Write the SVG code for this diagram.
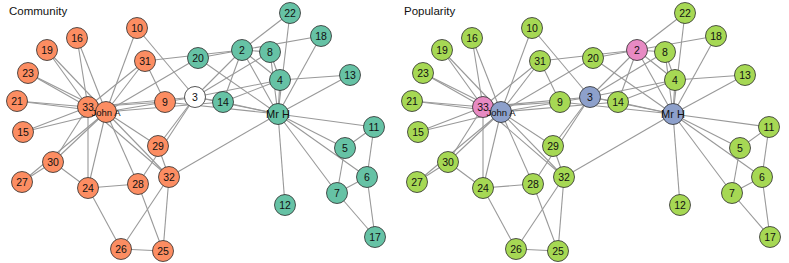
<svg xmlns="http://www.w3.org/2000/svg" width="789" height="263" viewBox="0 0 789 263">
<style>
.e line{stroke:#999999;stroke-width:1.1}
circle{stroke:#2b2b2b;stroke-width:0.8}
.o{fill:#FC8D62}.t{fill:#66C2A5}.w{fill:#ffffff}.b{fill:#8DA0CB}.p{fill:#E78AC3}.g{fill:#A6D854}
text{font-family:"Liberation Sans",Arial,sans-serif;fill:#111}
.n text{font-size:10.5px;text-anchor:middle;dominant-baseline:central}
.n text.s{font-size:9.5px}
.n text.m{font-size:11px}
.ti{font-size:11.5px}
</style>
<rect width="789" height="263" fill="#fff"/>
<text class="ti" x="9" y="15">Community</text>
<text class="ti" x="404" y="15">Popularity</text>
<g id="left">
<g id="connectors-left" class="e">
<line x1="278" y1="114" x2="242" y2="50"/><line x1="278" y1="114" x2="195" y2="97"/><line x1="278" y1="114" x2="280" y2="80"/><line x1="278" y1="114" x2="345" y2="148"/><line x1="278" y1="114" x2="367" y2="177"/><line x1="278" y1="114" x2="337" y2="193"/><line x1="278" y1="114" x2="270" y2="52"/><line x1="278" y1="114" x2="165" y2="102"/><line x1="278" y1="114" x2="374" y2="127"/><line x1="278" y1="114" x2="285" y2="205"/><line x1="278" y1="114" x2="350" y2="75"/><line x1="278" y1="114" x2="223" y2="102"/><line x1="278" y1="114" x2="321" y2="36"/><line x1="278" y1="114" x2="198" y2="58"/><line x1="278" y1="114" x2="290" y2="13"/><line x1="278" y1="114" x2="169" y2="177"/>
<line x1="242" y1="50" x2="195" y2="97"/><line x1="242" y1="50" x2="280" y2="80"/><line x1="242" y1="50" x2="270" y2="52"/><line x1="242" y1="50" x2="223" y2="102"/><line x1="242" y1="50" x2="321" y2="36"/><line x1="242" y1="50" x2="198" y2="58"/><line x1="242" y1="50" x2="290" y2="13"/><line x1="242" y1="50" x2="145" y2="61"/>
<line x1="195" y1="97" x2="280" y2="80"/><line x1="195" y1="97" x2="270" y2="52"/><line x1="195" y1="97" x2="165" y2="102"/><line x1="195" y1="97" x2="137" y2="28"/><line x1="195" y1="97" x2="223" y2="102"/><line x1="195" y1="97" x2="138" y2="184"/><line x1="195" y1="97" x2="158" y2="146"/><line x1="195" y1="97" x2="88" y2="107"/>
<line x1="280" y1="80" x2="270" y2="52"/><line x1="280" y1="80" x2="350" y2="75"/><line x1="280" y1="80" x2="223" y2="102"/>
<line x1="345" y1="148" x2="337" y2="193"/><line x1="345" y1="148" x2="374" y2="127"/><line x1="367" y1="177" x2="337" y2="193"/><line x1="367" y1="177" x2="374" y2="127"/><line x1="367" y1="177" x2="375" y2="237"/><line x1="337" y1="193" x2="375" y2="237"/>
<line x1="165" y1="102" x2="145" y2="61"/><line x1="165" y1="102" x2="88" y2="107"/><line x1="165" y1="102" x2="106" y2="112"/><line x1="137" y1="28" x2="106" y2="112"/><line x1="223" y1="102" x2="106" y2="112"/>
<line x1="23" y1="132" x2="88" y2="107"/><line x1="23" y1="132" x2="106" y2="112"/><line x1="77" y1="38" x2="88" y2="107"/><line x1="77" y1="38" x2="106" y2="112"/><line x1="47" y1="50" x2="88" y2="107"/><line x1="47" y1="50" x2="106" y2="112"/><line x1="198" y1="58" x2="106" y2="112"/><line x1="17" y1="101" x2="88" y2="107"/><line x1="17" y1="101" x2="106" y2="112"/><line x1="28" y1="73" x2="88" y2="107"/><line x1="28" y1="73" x2="106" y2="112"/>
<line x1="88" y1="188" x2="121" y2="249"/><line x1="88" y1="188" x2="138" y2="184"/><line x1="88" y1="188" x2="53" y2="162"/><line x1="88" y1="188" x2="88" y2="107"/><line x1="88" y1="188" x2="106" y2="112"/>
<line x1="163" y1="251" x2="121" y2="249"/><line x1="163" y1="251" x2="138" y2="184"/><line x1="163" y1="251" x2="169" y2="177"/><line x1="121" y1="249" x2="169" y2="177"/>
<line x1="22" y1="182" x2="53" y2="162"/><line x1="22" y1="182" x2="106" y2="112"/><line x1="138" y1="184" x2="106" y2="112"/><line x1="158" y1="146" x2="169" y2="177"/><line x1="158" y1="146" x2="106" y2="112"/>
<line x1="53" y1="162" x2="88" y2="107"/><line x1="53" y1="162" x2="106" y2="112"/><line x1="145" y1="61" x2="88" y2="107"/><line x1="145" y1="61" x2="106" y2="112"/><line x1="169" y1="177" x2="88" y2="107"/><line x1="169" y1="177" x2="106" y2="112"/><line x1="88" y1="107" x2="106" y2="112"/>
</g>
<g class="n">
<g id="c-mrh"><circle class="t" cx="278" cy="114" r="10.5"/><text class="m" x="278" y="114">Mr H</text></g>
<g id="c-2"><circle class="t" cx="242" cy="50" r="10.5"/><text x="242" y="50">2</text></g>
<g id="c-3"><circle class="w" cx="195" cy="97" r="10.5"/><text x="195" y="97">3</text></g>
<g id="c-4"><circle class="t" cx="280" cy="80" r="10.5"/><text x="280" y="80">4</text></g>
<g id="c-5"><circle class="t" cx="345" cy="148" r="10.5"/><text x="345" y="148">5</text></g>
<g id="c-6"><circle class="t" cx="367" cy="177" r="10.5"/><text x="367" y="177">6</text></g>
<g id="c-7"><circle class="t" cx="337" cy="193" r="10.5"/><text x="337" y="193">7</text></g>
<g id="c-8"><circle class="t" cx="270" cy="52" r="10.5"/><text x="270" y="52">8</text></g>
<g id="c-9"><circle class="o" cx="165" cy="102" r="10.5"/><text x="165" y="102">9</text></g>
<g id="c-10"><circle class="o" cx="137" cy="28" r="10.5"/><text x="137" y="28">10</text></g>
<g id="c-11"><circle class="t" cx="374" cy="127" r="10.5"/><text x="374" y="127">11</text></g>
<g id="c-12"><circle class="t" cx="285" cy="205" r="10.5"/><text x="285" y="205">12</text></g>
<g id="c-13"><circle class="t" cx="350" cy="75" r="10.5"/><text x="350" y="75">13</text></g>
<g id="c-14"><circle class="t" cx="223" cy="102" r="10.5"/><text x="223" y="102">14</text></g>
<g id="c-15"><circle class="o" cx="23" cy="132" r="10.5"/><text x="23" y="132">15</text></g>
<g id="c-16"><circle class="o" cx="77" cy="38" r="10.5"/><text x="77" y="38">16</text></g>
<g id="c-17"><circle class="t" cx="375" cy="237" r="10.5"/><text x="375" y="237">17</text></g>
<g id="c-18"><circle class="t" cx="321" cy="36" r="10.5"/><text x="321" y="36">18</text></g>
<g id="c-19"><circle class="o" cx="47" cy="50" r="10.5"/><text x="47" y="50">19</text></g>
<g id="c-20"><circle class="t" cx="198" cy="58" r="10.5"/><text x="198" y="58">20</text></g>
<g id="c-21"><circle class="o" cx="17" cy="101" r="10.5"/><text x="17" y="101">21</text></g>
<g id="c-22"><circle class="t" cx="290" cy="13" r="10.5"/><text x="290" y="13">22</text></g>
<g id="c-23"><circle class="o" cx="28" cy="73" r="10.5"/><text x="28" y="73">23</text></g>
<g id="c-24"><circle class="o" cx="88" cy="188" r="10.5"/><text x="88" y="188">24</text></g>
<g id="c-25"><circle class="o" cx="163" cy="251" r="10.5"/><text x="163" y="251">25</text></g>
<g id="c-26"><circle class="o" cx="121" cy="249" r="10.5"/><text x="121" y="249">26</text></g>
<g id="c-27"><circle class="o" cx="22" cy="182" r="10.5"/><text x="22" y="182">27</text></g>
<g id="c-28"><circle class="o" cx="138" cy="184" r="10.5"/><text x="138" y="184">28</text></g>
<g id="c-29"><circle class="o" cx="158" cy="146" r="10.5"/><text x="158" y="146">29</text></g>
<g id="c-30"><circle class="o" cx="53" cy="162" r="10.5"/><text x="53" y="162">30</text></g>
<g id="c-31"><circle class="o" cx="145" cy="61" r="10.5"/><text x="145" y="61">31</text></g>
<g id="c-32"><circle class="o" cx="169" cy="177" r="10.5"/><text x="169" y="177">32</text></g>
<g id="c-33"><circle class="o" cx="88" cy="107" r="10.5"/><text x="88" y="107">33</text></g>
<g id="c-johna"><circle class="o" cx="106" cy="112" r="10.5"/><text class="s" x="106" y="112">John A</text></g>
</g>
</g>
<g id="right" transform="translate(395,0)">
<g id="connectors-right" class="e">
<line x1="278" y1="114" x2="242" y2="50"/><line x1="278" y1="114" x2="195" y2="97"/><line x1="278" y1="114" x2="280" y2="80"/><line x1="278" y1="114" x2="345" y2="148"/><line x1="278" y1="114" x2="367" y2="177"/><line x1="278" y1="114" x2="337" y2="193"/><line x1="278" y1="114" x2="270" y2="52"/><line x1="278" y1="114" x2="165" y2="102"/><line x1="278" y1="114" x2="374" y2="127"/><line x1="278" y1="114" x2="285" y2="205"/><line x1="278" y1="114" x2="350" y2="75"/><line x1="278" y1="114" x2="223" y2="102"/><line x1="278" y1="114" x2="321" y2="36"/><line x1="278" y1="114" x2="198" y2="58"/><line x1="278" y1="114" x2="290" y2="13"/><line x1="278" y1="114" x2="169" y2="177"/>
<line x1="242" y1="50" x2="195" y2="97"/><line x1="242" y1="50" x2="280" y2="80"/><line x1="242" y1="50" x2="270" y2="52"/><line x1="242" y1="50" x2="223" y2="102"/><line x1="242" y1="50" x2="321" y2="36"/><line x1="242" y1="50" x2="198" y2="58"/><line x1="242" y1="50" x2="290" y2="13"/><line x1="242" y1="50" x2="145" y2="61"/>
<line x1="195" y1="97" x2="280" y2="80"/><line x1="195" y1="97" x2="270" y2="52"/><line x1="195" y1="97" x2="165" y2="102"/><line x1="195" y1="97" x2="137" y2="28"/><line x1="195" y1="97" x2="223" y2="102"/><line x1="195" y1="97" x2="138" y2="184"/><line x1="195" y1="97" x2="158" y2="146"/><line x1="195" y1="97" x2="88" y2="107"/>
<line x1="280" y1="80" x2="270" y2="52"/><line x1="280" y1="80" x2="350" y2="75"/><line x1="280" y1="80" x2="223" y2="102"/>
<line x1="345" y1="148" x2="337" y2="193"/><line x1="345" y1="148" x2="374" y2="127"/><line x1="367" y1="177" x2="337" y2="193"/><line x1="367" y1="177" x2="374" y2="127"/><line x1="367" y1="177" x2="375" y2="237"/><line x1="337" y1="193" x2="375" y2="237"/>
<line x1="165" y1="102" x2="145" y2="61"/><line x1="165" y1="102" x2="88" y2="107"/><line x1="165" y1="102" x2="106" y2="112"/><line x1="137" y1="28" x2="106" y2="112"/><line x1="223" y1="102" x2="106" y2="112"/>
<line x1="23" y1="132" x2="88" y2="107"/><line x1="23" y1="132" x2="106" y2="112"/><line x1="77" y1="38" x2="88" y2="107"/><line x1="77" y1="38" x2="106" y2="112"/><line x1="47" y1="50" x2="88" y2="107"/><line x1="47" y1="50" x2="106" y2="112"/><line x1="198" y1="58" x2="106" y2="112"/><line x1="17" y1="101" x2="88" y2="107"/><line x1="17" y1="101" x2="106" y2="112"/><line x1="28" y1="73" x2="88" y2="107"/><line x1="28" y1="73" x2="106" y2="112"/>
<line x1="88" y1="188" x2="121" y2="249"/><line x1="88" y1="188" x2="138" y2="184"/><line x1="88" y1="188" x2="53" y2="162"/><line x1="88" y1="188" x2="88" y2="107"/><line x1="88" y1="188" x2="106" y2="112"/>
<line x1="163" y1="251" x2="121" y2="249"/><line x1="163" y1="251" x2="138" y2="184"/><line x1="163" y1="251" x2="169" y2="177"/><line x1="121" y1="249" x2="169" y2="177"/>
<line x1="22" y1="182" x2="53" y2="162"/><line x1="22" y1="182" x2="106" y2="112"/><line x1="138" y1="184" x2="106" y2="112"/><line x1="158" y1="146" x2="169" y2="177"/><line x1="158" y1="146" x2="106" y2="112"/>
<line x1="53" y1="162" x2="88" y2="107"/><line x1="53" y1="162" x2="106" y2="112"/><line x1="145" y1="61" x2="88" y2="107"/><line x1="145" y1="61" x2="106" y2="112"/><line x1="169" y1="177" x2="88" y2="107"/><line x1="169" y1="177" x2="106" y2="112"/><line x1="88" y1="107" x2="106" y2="112"/>
</g>
<g class="n">
<g id="p-mrh"><circle class="b" cx="278" cy="114" r="10.5"/><text class="m" x="278" y="114">Mr H</text></g>
<g id="p-2"><circle class="p" cx="242" cy="50" r="10.5"/><text x="242" y="50">2</text></g>
<g id="p-3"><circle class="b" cx="195" cy="97" r="10.5"/><text x="195" y="97">3</text></g>
<g id="p-4"><circle class="g" cx="280" cy="80" r="10.5"/><text x="280" y="80">4</text></g>
<g id="p-5"><circle class="g" cx="345" cy="148" r="10.5"/><text x="345" y="148">5</text></g>
<g id="p-6"><circle class="g" cx="367" cy="177" r="10.5"/><text x="367" y="177">6</text></g>
<g id="p-7"><circle class="g" cx="337" cy="193" r="10.5"/><text x="337" y="193">7</text></g>
<g id="p-8"><circle class="g" cx="270" cy="52" r="10.5"/><text x="270" y="52">8</text></g>
<g id="p-9"><circle class="g" cx="165" cy="102" r="10.5"/><text x="165" y="102">9</text></g>
<g id="p-10"><circle class="g" cx="137" cy="28" r="10.5"/><text x="137" y="28">10</text></g>
<g id="p-11"><circle class="g" cx="374" cy="127" r="10.5"/><text x="374" y="127">11</text></g>
<g id="p-12"><circle class="g" cx="285" cy="205" r="10.5"/><text x="285" y="205">12</text></g>
<g id="p-13"><circle class="g" cx="350" cy="75" r="10.5"/><text x="350" y="75">13</text></g>
<g id="p-14"><circle class="g" cx="223" cy="102" r="10.5"/><text x="223" y="102">14</text></g>
<g id="p-15"><circle class="g" cx="23" cy="132" r="10.5"/><text x="23" y="132">15</text></g>
<g id="p-16"><circle class="g" cx="77" cy="38" r="10.5"/><text x="77" y="38">16</text></g>
<g id="p-17"><circle class="g" cx="375" cy="237" r="10.5"/><text x="375" y="237">17</text></g>
<g id="p-18"><circle class="g" cx="321" cy="36" r="10.5"/><text x="321" y="36">18</text></g>
<g id="p-19"><circle class="g" cx="47" cy="50" r="10.5"/><text x="47" y="50">19</text></g>
<g id="p-20"><circle class="g" cx="198" cy="58" r="10.5"/><text x="198" y="58">20</text></g>
<g id="p-21"><circle class="g" cx="17" cy="101" r="10.5"/><text x="17" y="101">21</text></g>
<g id="p-22"><circle class="g" cx="290" cy="13" r="10.5"/><text x="290" y="13">22</text></g>
<g id="p-23"><circle class="g" cx="28" cy="73" r="10.5"/><text x="28" y="73">23</text></g>
<g id="p-24"><circle class="g" cx="88" cy="188" r="10.5"/><text x="88" y="188">24</text></g>
<g id="p-25"><circle class="g" cx="163" cy="251" r="10.5"/><text x="163" y="251">25</text></g>
<g id="p-26"><circle class="g" cx="121" cy="249" r="10.5"/><text x="121" y="249">26</text></g>
<g id="p-27"><circle class="g" cx="22" cy="182" r="10.5"/><text x="22" y="182">27</text></g>
<g id="p-28"><circle class="g" cx="138" cy="184" r="10.5"/><text x="138" y="184">28</text></g>
<g id="p-29"><circle class="g" cx="158" cy="146" r="10.5"/><text x="158" y="146">29</text></g>
<g id="p-30"><circle class="g" cx="53" cy="162" r="10.5"/><text x="53" y="162">30</text></g>
<g id="p-31"><circle class="g" cx="145" cy="61" r="10.5"/><text x="145" y="61">31</text></g>
<g id="p-32"><circle class="g" cx="169" cy="177" r="10.5"/><text x="169" y="177">32</text></g>
<g id="p-33"><circle class="p" cx="88" cy="107" r="10.5"/><text x="88" y="107">33</text></g>
<g id="p-johna"><circle class="b" cx="106" cy="112" r="10.5"/><text class="s" x="106" y="112">John A</text></g>
</g>
</g>
</svg>
